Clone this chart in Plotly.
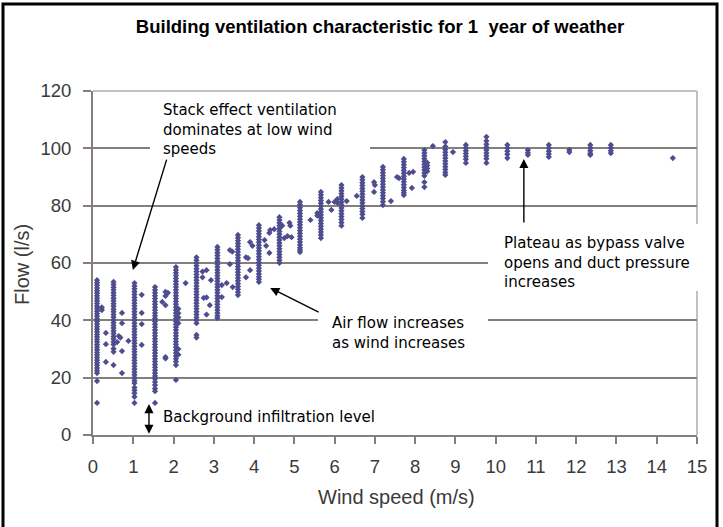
import plotly.graph_objects as go

# ---------------- data ----------------
wind_bins = [0.10, 0.51, 1.03, 1.54, 2.06, 2.57, 3.09, 3.60, 4.12, 4.63, 5.14, 5.66, 6.17,
             6.69, 7.20, 7.72, 8.23, 8.75, 9.26, 9.77, 10.29, 10.80, 11.32, 11.83, 12.35, 12.86, 14.40]

flow_00 = [54.0, 53.1, 52.2, 51.3, 50.4, 49.5, 48.6, 47.7, 46.8, 45.9, 45.0, 44.1, 43.2, 42.3, 41.4,
           40.5, 39.6, 38.7, 37.8, 36.9, 36.0, 35.1, 34.2, 33.3, 32.4, 31.5, 30.6, 29.7, 28.8, 27.9,
           27.0, 26.1, 25.2, 24.3, 23.4, 22.5, 21.6, 18.8, 11.2]
flow_01 = [53.4, 52.5, 51.5, 50.6, 49.6, 48.7, 47.7, 46.8, 45.8, 44.9, 43.9, 43.0, 42.0, 41.1, 40.1,
           39.2, 38.2, 37.3, 36.3, 35.4, 34.4, 33.5, 32.5, 31.6, 30.1, 29.0, 24.4]
flow_02 = [53.0, 52.0, 51.0, 50.0, 49.0, 48.0, 47.0, 46.0, 45.0, 44.0, 43.0, 42.0, 41.0, 40.0, 39.0,
           38.0, 37.0, 36.0, 35.0, 34.0, 33.0, 32.0, 31.0, 30.0, 29.0, 28.0, 27.0, 26.0, 25.0, 24.0,
           23.0, 22.0, 21.0, 20.0, 19.0, 18.1, 16.6, 15.6, 14.6, 13.3, 11.2]
flow_03 = [51.6, 50.6, 49.6, 48.6, 47.6, 46.6, 45.6, 44.6, 43.6, 42.6, 41.6, 40.6, 39.6, 38.6, 37.6,
           36.6, 35.6, 34.6, 33.6, 32.6, 31.6, 30.6, 29.6, 28.6, 27.6, 26.6, 25.6, 24.6, 23.6, 22.6,
           21.6, 20.6, 19.6, 18.5, 17.4, 16.2, 15.3, 11.2]
flow_04 = [58.6, 57.6, 56.6, 55.6, 54.6, 53.6, 52.6, 51.6, 50.6, 49.6, 48.6, 47.6, 46.6, 45.6, 44.6,
           43.6, 42.6, 41.6, 40.6, 39.6, 38.6, 37.6, 36.6, 35.6, 34.6, 33.6, 32.6, 31.6, 30.6, 29.6,
           28.6, 27.6, 26.6, 25.6, 24.4, 19.2]
flow_05 = [62.0, 61.0, 60.0, 59.0, 58.0, 57.0, 56.0, 55.0, 54.0, 53.0, 52.0, 51.0, 50.0, 49.0, 48.0,
           47.0, 46.0, 45.0, 44.0, 43.0, 42.0, 41.0, 40.0, 39.0, 34.9, 34.0]
flow_06 = [65.6, 64.6, 63.6, 62.6, 61.6, 60.6, 59.6, 58.6, 57.6, 56.6, 55.6, 54.6, 53.6, 52.6, 51.6,
           50.6, 49.6, 48.6, 47.6, 46.6, 45.6, 44.6, 43.6, 42.6, 41.6, 40.8]
flow_07 = [69.8, 68.8, 67.8, 66.8, 65.8, 64.8, 63.8, 62.8, 61.8, 60.8, 59.8, 58.8, 57.8, 56.8, 55.8,
           54.8, 53.8, 52.8, 51.8, 50.8, 49.8, 48.8]
flow_08 = [73.2, 72.2, 71.2, 70.2, 69.2, 68.2, 67.2, 66.2, 65.2, 64.2, 63.2, 62.2, 61.2, 60.2, 59.2,
           58.2, 57.2, 56.2, 55.2, 54.3, 53.4]
flow_09 = [76.0, 75.0, 74.0, 73.0, 72.0, 71.0, 70.0, 69.0, 68.0, 67.0, 66.0, 65.0, 64.0, 63.0, 62.0,
           61.0, 60.0]
flow_10 = [81.3, 80.3, 79.3, 78.3, 77.3, 76.3, 75.3, 74.3, 73.3, 72.3, 71.3, 70.3, 69.3, 68.3, 67.3,
           66.3, 65.3, 64.5, 63.8]
flow_11 = [84.8, 83.8, 82.8, 81.8, 80.8, 79.8, 78.8, 77.8, 76.8, 75.8, 74.8, 73.8, 72.8, 71.8, 70.8,
           69.8, 68.7]
flow_12 = [87.2, 86.2, 85.2, 84.2, 83.2, 82.2, 81.2, 80.2, 79.2, 78.2, 77.2, 76.2, 75.2, 74.1, 73.0]
flow_13 = [90.0, 89.0, 88.0, 87.0, 86.0, 85.0, 84.0, 83.0, 82.0, 81.0, 80.0, 79.0, 78.0, 77.0, 75.7]
flow_14 = [93.5, 92.5, 91.5, 90.5, 89.5, 88.5, 87.5, 86.5, 85.5, 84.5, 83.5, 82.5, 81.4, 80.2]
flow_15 = [96.3, 95.3, 94.3, 93.3, 92.3, 91.3, 90.3, 89.3, 88.3, 87.3, 86.3, 85.3, 84.5, 83.7]
flow_16 = [99.4, 98.4, 97.4, 96.4, 95.4, 94.4, 93.4, 92.4, 91.4, 90.4, 88.2, 86.5]
flow_17 = [102.2, 100.6, 99.6, 98.6, 97.6, 96.6, 95.6, 94.6, 93.6, 92.6, 91.6, 90.7]
flow_18 = [101.2, 100.2, 99.2, 98.2, 97.2, 96.2, 94.9]
flow_19 = [104.0, 102.6, 101.4, 100.4, 99.4, 98.4, 97.4, 96.4, 94.9]
flow_20 = [101.2, 100.1, 99.0, 97.9, 96.6]
flow_21 = [99.4, 98.5, 97.7]
flow_22 = [101.2, 100.1, 99.0, 98.0, 97.0]
flow_23 = [99.5, 98.7]
flow_24 = [101.2, 100.2, 99.2, 98.2, 97.7]
flow_25 = [101.2, 100.2, 99.2, 98.3]
flow_26 = [96.6]

bin_flows = [flow_00, flow_01, flow_02, flow_03, flow_04, flow_05, flow_06, flow_07, flow_08,
             flow_09, flow_10, flow_11, flow_12, flow_13, flow_14, flow_15, flow_16, flow_17,
             flow_18, flow_19, flow_20, flow_21, flow_22, flow_23, flow_24, flow_25, flow_26]

scatter_wind = [0.22, 0.22, 0.32, 0.32, 0.32, 0.60, 0.64, 0.68, 0.72, 0.72, 0.72, 0.72,
                0.88, 1.21, 1.21, 1.21, 1.21, 1.72, 1.80, 1.80, 1.80, 1.86, 1.80, 1.80,
                2.12, 2.12, 2.12, 2.12, 2.12, 2.12, 2.30,
                2.72, 2.82, 2.93, 2.75, 2.82, 2.90, 2.82, 2.72,
                3.20, 3.32, 3.20, 3.40, 3.40, 3.46, 3.47,
                3.80, 3.85, 3.80, 3.90, 3.90, 3.96,
                4.26, 4.30, 4.38, 4.40, 4.50, 4.38,
                4.75, 4.83, 4.88, 4.70, 4.90, 4.93,
                5.40, 5.57, 5.57, 5.85, 5.92, 6.00, 6.07, 6.07,
                6.30, 6.55, 6.98, 7.00, 6.98, 7.40,
                7.55, 7.60, 7.85, 7.95, 7.92,
                8.30, 8.30, 8.30, 8.30, 8.44, 8.94]
scatter_flow = [43.6, 44.5, 35.6, 31.7, 25.5, 32.4, 34.5, 34.0, 42.6, 39.0, 29.3, 21.6,
                32.8, 48.9, 42.6, 38.7, 31.4, 46.4, 49.9, 48.5, 45.3, 49.6, 27.2, 26.7,
                44.0, 42.5, 41.0, 39.0, 30.0, 28.0, 53.0,
                57.0, 57.5, 54.0, 47.8, 48.0, 45.3, 42.0, 55.0,
                52.3, 53.0, 48.1, 59.6, 64.5, 64.0, 51.6,
                62.0, 61.7, 55.0, 57.5, 67.3, 66.0,
                68.0, 66.0, 70.5, 71.5, 71.8, 63.5,
                68.7, 69.4, 74.0, 73.0, 73.0, 69.0,
                75.0, 77.4, 76.5, 81.3, 78.5, 81.3, 81.0, 82.3,
                81.6, 83.4, 84.8, 87.2, 88.2, 81.6,
                90.0, 89.6, 91.4, 91.8, 86.2,
                95.0, 94.0, 93.0, 92.0, 100.8, 98.7]

x_ticks = list(range(0, 16))
y_ticks = [0, 20, 40, 60, 80, 100, 120]

# ---------------- build ----------------
xs, ys = [], []
for w, fl in zip(wind_bins, bin_flows):
    xs += [w] * len(fl)
    ys += fl
xs += scatter_wind
ys += scatter_flow

# pixel geometry of the plot area
L, R, T, B = 93, 697, 91, 435
W, H = R - L, B - T


def u(px):
    return (px - L) / W


def v(py):
    return (B - py) / H


GRID = "#857e7a"
MARK = "#4d4d8f"
TICKFONT = dict(family="Liberation Sans, Arial", size=18.5, color="#3a3a3a")
TITLEFONT = dict(family="Liberation Sans, Arial", size=20, color="#3a3a3a")
TEXTFONT = dict(family="Verdana, DejaVu Sans", size=15, color="#000000")

fig = go.Figure()
fig.add_trace(go.Scatter(
    x=xs, y=ys, mode="markers",
    marker=dict(symbol="diamond", size=4.8, color=MARK, line=dict(width=0)),
    showlegend=False, hoverinfo="skip",
))

fig.update_layout(
    width=723, height=527,
    margin=dict(l=L, r=723 - R, t=T, b=527 - B, pad=0),
    paper_bgcolor="white", plot_bgcolor="white",
    hovermode=False,
    title=dict(text="<b>Building ventilation characteristic for 1  year of weather</b>",
               font=dict(family="Liberation Sans, Arial", size=18.5, color="#000000"),
               xref="paper", x=u(380), xanchor="center",
               yref="container", y=1 - 27 / 527, yanchor="middle"),
    xaxis=dict(range=[0, 15], tickvals=x_ticks, ticktext=[str(t) for t in x_ticks],
               showgrid=False, zeroline=False, showline=True, linecolor=GRID, linewidth=2,
               ticks="outside", ticklen=7, tickwidth=2, tickcolor=GRID,
               tickfont=TICKFONT, ticklabelstandoff=7),
    yaxis=dict(range=[0, 120], tickvals=y_ticks, ticktext=[str(t) for t in y_ticks],
               showgrid=True, gridcolor=GRID, gridwidth=2, zeroline=False,
               showline=True, linecolor=GRID, linewidth=2,
               ticks="outside", ticklen=8, tickwidth=2, tickcolor=GRID,
               tickfont=TICKFONT, ticklabelstandoff=8),
)

shapes = []
# white label boxes that interrupt the gridlines
for x0, y0, x1, y1 in [(150, 96, 370, 162), (318, 303, 488, 356), (488, 224, 712, 291), (160, 405, 400, 428)]:
    shapes.append(dict(type="rect", xref="paper", yref="paper", x0=u(x0), x1=u(x1), y0=v(y1), y1=v(y0),
                       fillcolor="white", line=dict(width=0), layer="above"))
# light plot-area border (top and right)
shapes.append(dict(type="line", xref="paper", yref="paper", x0=0, x1=1, y0=1, y1=1,
                   line=dict(color="#c4c0bd", width=2), layer="below"))
shapes.append(dict(type="line", xref="paper", yref="paper", x0=1, x1=1, y0=0, y1=v(224),
                   line=dict(color="#c4c0bd", width=2), layer="below"))
shapes.append(dict(type="line", xref="paper", yref="paper", x0=1, x1=1, y0=v(291), y1=1,
                   line=dict(color="#c4c0bd", width=2), layer="below"))
# outer black frame
shapes.append(dict(type="rect", xref="paper", yref="paper", x0=u(3), x1=u(717), y0=v(560), y1=v(4),
                   line=dict(color="black", width=3), fillcolor="rgba(0,0,0,0)", layer="above"))
fig.update_layout(shapes=shapes)

ann = []
ann.append(dict(text="Stack effect ventilation<br>dominates at low wind<br>speeds",
                xref="paper", yref="paper", x=u(161), y=v(99), xanchor="left", yanchor="top",
                align="left", showarrow=False, font=TEXTFONT))
ann.append(dict(text="Air flow increases<br>as wind increases",
                xref="paper", yref="paper", x=u(330), y=v(312), xanchor="left", yanchor="top",
                align="left", showarrow=False, font=TEXTFONT))
ann.append(dict(text="Plateau as bypass valve<br>opens and duct pressure<br>increases",
                xref="paper", yref="paper", x=u(502), y=v(232), xanchor="left", yanchor="top",
                align="left", showarrow=False, font=TEXTFONT))
ann.append(dict(text="Background infiltration level",
                xref="paper", yref="paper", x=u(161), y=v(417), xanchor="left", yanchor="middle",
                align="left", showarrow=False, font=TEXTFONT))
# axis titles
ann.append(dict(text="Flow (l/s)", xref="paper", yref="paper", x=u(22), y=v(265),
                xanchor="center", yanchor="middle",
                textangle=-90, showarrow=False, font=TITLEFONT))
ann.append(dict(text="Wind speed (m/s)", xref="paper", yref="paper", x=u(396), y=v(497),
                xanchor="center", yanchor="middle",
                showarrow=False, font=TITLEFONT))
# arrows
arrow = dict(text="", showarrow=True, arrowhead=2, arrowsize=1.3, arrowwidth=1.4,
             arrowcolor="black", xref="x", yref="y", axref="x", ayref="y", standoff=0, startstandoff=0)
ann.append(dict(arrow, x=0.99, y=57.6, ax=1.84, ay=96.6))
ann.append(dict(arrow, x=4.40, y=51.3, ax=5.64, ay=42.6))
ann.append(dict(arrow, x=10.70, y=96.3, ax=10.70, ay=73.6))
ann.append(dict(arrow, x=1.39, y=0.4, ax=1.39, ay=11.3, arrowside="end+start", startarrowhead=2,
                startarrowsize=1.3))
fig.update_layout(annotations=ann)

# remove the browser's default 8px page margin so the figure sits at the window origin
fig.write_html("out.html", config={"displayModeBar": False},
               post_script="document.body.style.margin='0px';")
